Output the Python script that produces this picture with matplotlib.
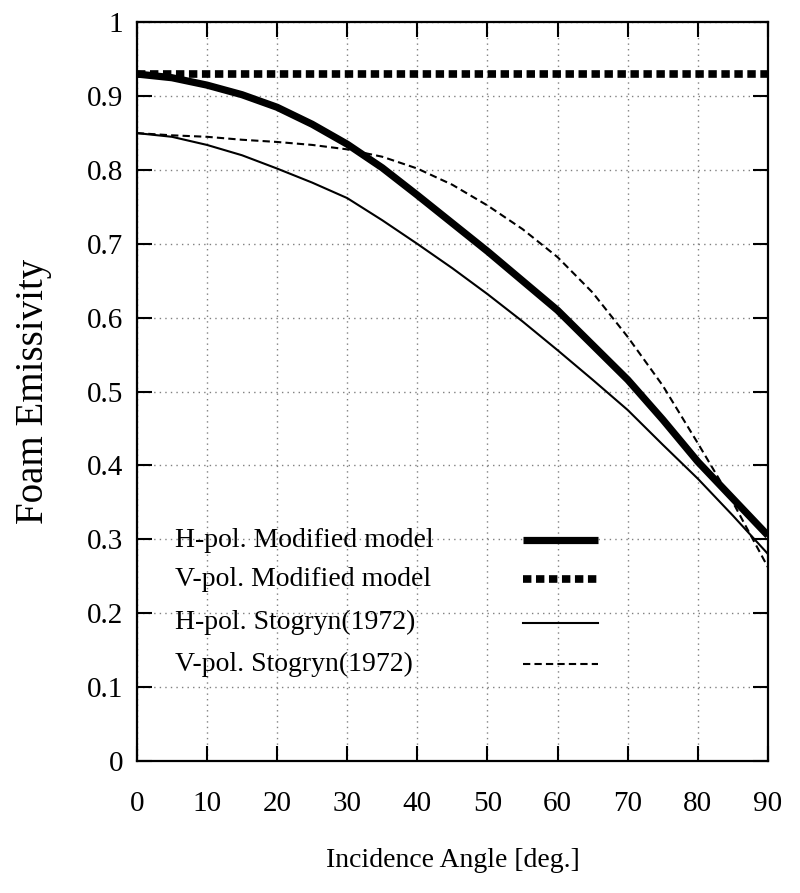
import matplotlib
matplotlib.use("Agg")
import matplotlib.pyplot as plt
from matplotlib.lines import Line2D

angles = [0, 5, 10, 15, 20, 25, 30, 35, 40, 45, 50, 55, 60, 65, 70, 75, 80, 85, 90]
h_mod = [0.930, 0.925, 0.915, 0.902, 0.885, 0.862, 0.835, 0.803, 0.766, 0.728, 0.690,
         0.650, 0.610, 0.563, 0.516, 0.462, 0.405, 0.355, 0.305]
v_mod = [0.930] * len(angles)
h_stog = [0.850, 0.845, 0.834, 0.820, 0.802, 0.783, 0.762, 0.732, 0.700, 0.667, 0.632,
          0.595, 0.556, 0.516, 0.475, 0.428, 0.382, 0.332, 0.280]
v_stog = [0.850, 0.847, 0.845, 0.841, 0.838, 0.834, 0.828, 0.818, 0.802, 0.780, 0.752,
          0.720, 0.682, 0.634, 0.574, 0.508, 0.430, 0.350, 0.262]
labels = ["H-pol. Modified model", "V-pol. Modified model",
          "H-pol. Stogryn(1972)", "V-pol. Stogryn(1972)"]
xticks = list(range(0, 91, 10))
yticks = [0, 0.1, 0.2, 0.3, 0.4, 0.5, 0.6, 0.7, 0.8, 0.9, 1]
ytick_labels = ["0", "0.1", "0.2", "0.3", "0.4", "0.5", "0.6", "0.7", "0.8", "0.9", "1"]

plt.rcParams['font.family'] = ['Liberation Serif', 'DejaVu Serif']

fig = plt.figure(figsize=(8, 8.93), dpi=100)
ax = fig.add_axes([0.171, 0.148, 0.789, 0.827])

styles = [
    dict(color='black', lw=5.2, solid_capstyle='butt'),
    dict(color='black', lw=5.5, dash_capstyle='butt', dashes=(1.1, 0.6)),
    dict(color='black', lw=1.5),
    dict(color='black', lw=1.5, dashes=(3.5, 2.0)),
]
series = [h_mod, v_mod, h_stog, v_stog]
for ys, st, lab in zip(series, styles, labels):
    ax.plot(angles, ys, label=lab, **st)

ax.set_xlim(0, 90)
ax.set_ylim(0, 1)
ax.set_xticks(xticks)
ax.set_yticks(yticks)
ax.set_yticklabels(ytick_labels)
ax.grid(True, color='#808080', linestyle=(0, (1, 3)), lw=1.0)
ax.tick_params(direction='in', length=11, width=1.5, top=True, right=True,
               labelsize=21)
ax.tick_params(axis='x', pad=22)
ax.tick_params(axis='y', pad=10)
for s in ax.spines.values():
    s.set_linewidth(1.6)

ax.set_xlabel("Incidence Angle [deg.]", fontsize=20, labelpad=22)
ax.set_ylabel("Foam Emissivity", fontsize=28)
ax.yaxis.set_label_coords(-0.135, 0.5)

# legend: text on the left, line sample on the right (gnuplot style)
leg_y = [0.299, 0.246, 0.187, 0.131]
for yy, st, lab in zip(leg_y, styles, labels):
    ax.text(0.060, yy, lab, transform=ax.transAxes, fontsize=20,
            ha='left', va='center')
    ax.add_line(Line2D([0.612, 0.730], [yy, yy], transform=ax.transAxes, **st))

fig.savefig("out.png", dpi=100)
